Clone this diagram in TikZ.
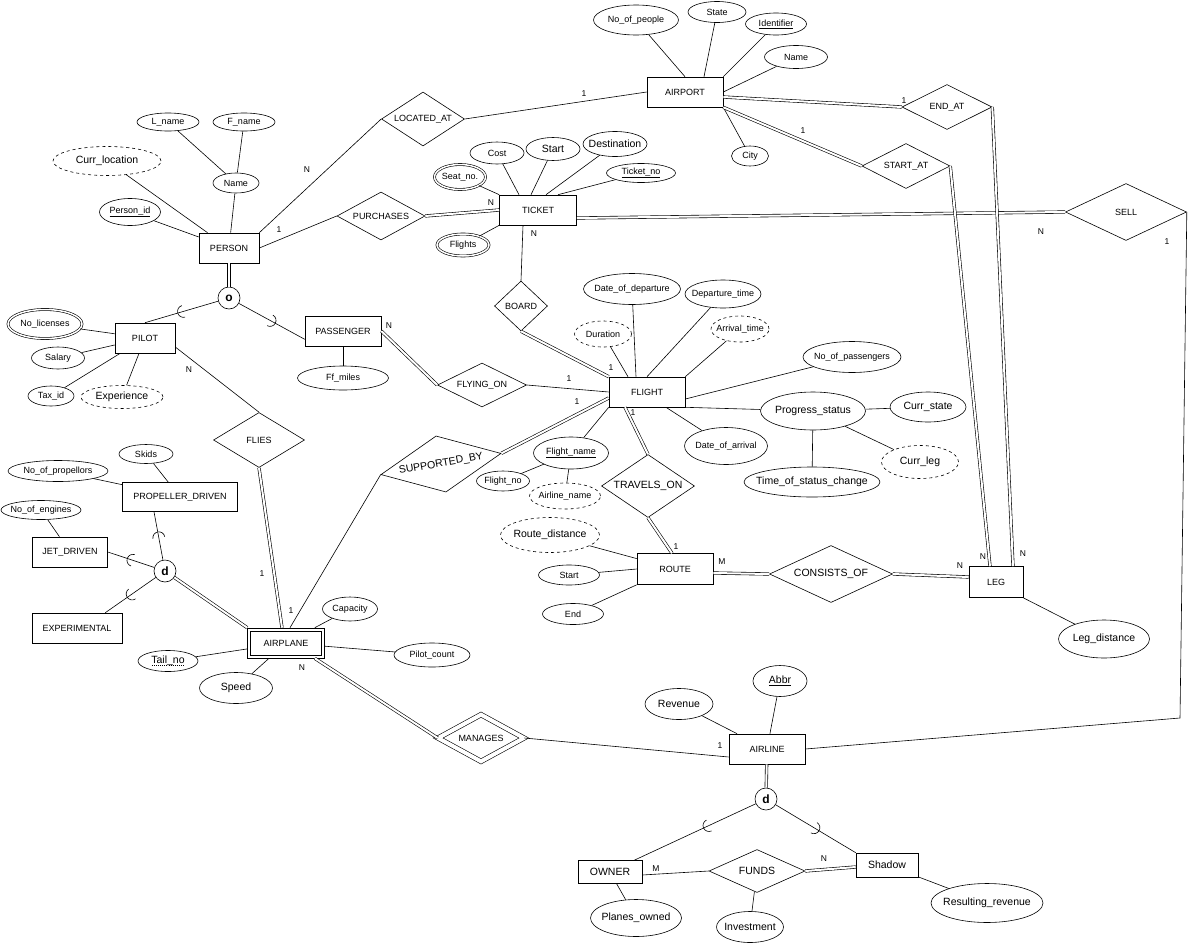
\documentclass[tikz,border=0pt]{standalone}
\usepackage{fontspec}
\setmainfont{Liberation Sans}
\usetikzlibrary{shapes.geometric,decorations.markings}
\newcommand\dashunder[1]{\setbox2=\hbox{#1}\rlap{\lower2pt\hbox to\wd2{\xleaders\hbox to 2pt{\hss\vrule width 1pt height 0.4pt\hss}\hfill}}\box2}

\begin{document}
\begin{tikzpicture}[x=1pt,y=-1pt,line width=0.6pt,
  every node/.style={font=\fontsize{9}{10}\selectfont},
  lg/.style={font=\fontsize{10.5}{12}\selectfont},
  zb/.style={execute at begin node={\setbox0=\hbox\bgroup},
    execute at end node={\egroup\hbox to 0pt{\hss\box0\hss}}},
  sz/.style 2 args={minimum width=#1, minimum height=#2},
  ent/.style={draw, rectangle, inner sep=0pt, zb},
  rel/.style={draw, diamond, inner sep=0pt, zb},
  attr/.style={draw, ellipse, inner sep=0pt, zb},
  dattr/.style={attr, dashed},
  mattr/.style={attr, double, double distance=1.5pt},
  isa/.style={draw, circle, minimum size=22pt, inner sep=0pt, font=\fontsize{12}{12}\selectfont\bfseries},
  card/.style={inner sep=0pt, font=\fontsize{8.5}{10}\selectfont},
  dbl/.style={double, double distance=2pt},
  sub/.style={postaction={decorate}, decoration={markings,
    mark=at position #1 with {\draw (-2pt,6pt) arc[start angle=90, end angle=-90, radius=6pt];}}},
  sub/.default=0.5]
\fill[white] (0,0) rectangle (1189,945);

% entities
\node[ent, sz={76}{30}] (airport) at (685,92) {AIRPORT};
\node[ent, sz={60}{30}] (person) at (229,248) {PERSON};
\node[ent, sz={77}{30}] (ticket) at (538,210) {TICKET};
\node[ent, sz={60}{30}] (pilot) at (145,338) {PILOT};
\node[ent, sz={76}{30}] (passenger) at (343,331) {PASSENGER};
\node[ent, sz={76}{30}] (flight) at (647,392) {FLIGHT};
\node[ent, sz={115}{29}] (propeller) at (180,497) {PROPELLER\_DRIVEN};
\node[ent, sz={75}{30}] (jet) at (70,552) {JET\_DRIVEN};
\node[ent, sz={90}{30}] (experimental) at (77,628) {EXPERIMENTAL};
\node[ent, sz={77}{30}] (airplane) at (286,643) {AIRPLANE};
\node[ent, sz={71}{24}] (airplanein) at (286,643) {};
\node[ent, sz={76}{31}] (route) at (675,569) {ROUTE};
\node[ent, sz={54}{31}] (leg) at (996,582) {LEG};
\node[ent, sz={76}{30}] (airline) at (767,749) {AIRLINE};
\node[ent, lg, sz={64}{23}] (owner) at (610,872) {OWNER};
\node[ent, lg, sz={62}{24}] (shadow) at (887,865) {Shadow};

% relationships
\node[rel, sz={83}{54}] (locatedat) at (423,119) {LOCATED\_AT};
\node[rel, sz={88}{48}] (purchases) at (381,216) {PURCHASES};
\node[rel, sz={90}{45}] (endat) at (947,107) {END\_AT};
\node[rel, sz={88}{45}] (startat) at (906,166) {START\_AT};
\node[rel, sz={121}{57}] (sell) at (1126,212) {SELL};
\node[rel, sz={53}{50}] (board) at (521,306) {BOARD};
\node[rel, sz={89}{44}] (flyingon) at (482,385) {FLYING\_ON};
\node[rel, lg, rotate=10, sz={122}{57}] (supportedby) at (441,464) {SUPPORTED\_BY};
\node[rel, lg, sz={93}{63}] (travelson) at (648,486) {TRAVELS\_ON};
\node[rel, lg, sz={123}{57}] (consistsof) at (831,574) {CONSISTS\_OF};
\node[rel, sz={91}{55}] (flies) at (259,440) {FLIES};
\node[rel, double, double distance=4pt, sz={86}{47}] (manages) at (481,738) {MANAGES};
\node[rel, lg, sz={96}{43}] (funds) at (757,871) {FUNDS};

% specialisation circles
\node[isa] (ocirc) at (229,298) {o};
\node[isa] (dplane) at (165,571) {d};
\node[isa] (dairline) at (766,799) {d};
\coordinate (sellbend) at (1180,718);

% attributes
\node[attr, sz={62}{18}] (lname) at (168,122) {L\_name};
\node[attr, sz={62}{18}] (fname) at (244,122) {F\_name};
\node[dattr, lg, sz={108}{29}] (currloc) at (107,161) {Curr\_location};
\node[attr, sz={46}{20}] (pname) at (236,183) {Name};
\node[attr, sz={61}{27}] (personid) at (130,212) {\underline{Person\_id}};
\node[mattr, sz={74}{29}] (nolic) at (45,324) {No\_licenses};
\node[attr, sz={53}{22}] (salary) at (58,358) {Salary};
\node[attr, sz={46}{20}] (taxid) at (51,396) {Tax\_id};
\node[dattr, lg, sz={82}{23}] (experience) at (122,397) {Experience};
\node[attr, sz={91}{24}] (ffmiles) at (343,378) {Ff\_miles};
\node[attr, sz={85}{30}] (noofpeople) at (636,20) {No\_of\_people};
\node[attr, sz={58}{21}] (state) at (717,12) {State};
\node[attr, sz={61}{22}] (ident) at (776,24) {\underline{Identifier}};
\node[attr, sz={63}{23}] (aname) at (796,57) {Name};
\node[attr, sz={37}{20}] (city) at (750,156) {City};
\node[attr, sz={54}{22}] (cost) at (497,153) {Cost};
\node[attr, lg, sz={54}{23}] (tstart) at (553,149) {Start};
\node[attr, lg, sz={64}{25}] (dest) at (615,144) {Destination};
\node[attr, sz={69}{19}] (ticketno) at (641,173) {\underline{Ticket\_no}};
\node[mattr, sz={51}{25}] (seatno) at (460,177) {Seat\_no.};
\node[mattr, sz={52}{22}] (flights) at (463,245) {Flights};
\node[attr, sz={97}{31}] (dateofdep) at (632,289) {Date\_of\_departure};
\node[attr, sz={76}{28}] (deptime) at (723,294) {Departure\_time};
\node[dattr, sz={57}{26}] (duration) at (603,334) {Duration};
\node[dattr, sz={58}{26}] (arrtime) at (740,329) {Arrival\_time};
\node[attr, sz={98}{31}] (noofpass) at (852,357) {No\_of\_passengers};
\node[attr, lg, sz={105}{38}] (progress) at (813,411) {Progress\_status};
\node[attr, lg, sz={76}{30}] (currstate) at (928,407) {Curr\_state};
\node[dattr, lg, sz={77}{33}] (currleg) at (920,462) {Curr\_leg};
\node[attr, lg, sz={136}{30}] (statuschange) at (812,482) {Time\_of\_status\_change};
\node[attr, sz={83}{37}] (dateofarr) at (726,446) {Date\_of\_arrival};
\node[attr, sz={75}{32}] (flightname) at (571,453) {\underline{Flight\_name}};
\node[attr, sz={53}{20}] (flightno) at (503,481) {Flight\_no};
\node[dattr, sz={71}{26}] (airlinename) at (565,496) {Airline\_name};
\node[dattr, lg, sz={99}{35}] (routedist) at (550,535) {Route\_distance};
\node[attr, sz={61}{20}] (rstart) at (569,575) {Start};
\node[attr, sz={61}{21}] (rend) at (573,614) {End};
\node[attr, lg, sz={91}{38}] (legdist) at (1104,639) {Leg\_distance};
\node[attr, sz={55}{24}] (capacity) at (350,609) {Capacity};
\node[attr, sz={76}{24}] (pilotcount) at (432,655) {Pilot\_count};
\node[attr, lg, sz={60}{21}] (tailno) at (168,661) {\dashunder{Tail\_no}};
\node[attr, lg, sz={73}{31}] (speed) at (236,688) {Speed};
\node[attr, sz={54}{19}] (skids) at (146,454) {Skids};
\node[attr, sz={100}{21}] (noofprop) at (58,471) {No\_of\_propellors};
\node[attr, sz={80}{19}] (noofeng) at (41,510) {No\_of\_engines};
\node[attr, lg, sz={54}{31}] (abbr) at (780,681) {\underline{Abbr}};
\node[attr, lg, sz={68}{31}] (revenue) at (679,704) {Revenue};
\node[attr, lg, sz={91}{37}] (planesowned) at (636,918) {Planes\_owned};
\node[attr, lg, sz={67}{31}] (investment) at (750,927) {Investment};
\node[attr, lg, sz={112}{39}] (resrevenue) at (987,903) {Resulting\_revenue};

% attribute lines
\draw (lname) -- (pname);
\draw (fname) -- (pname);
\draw (pname) -- (person);
\draw (currloc) -- (person);
\draw (personid) -- (person);
\draw (nolic) -- (pilot);
\draw (salary) -- (pilot);
\draw (taxid) -- (pilot);
\draw (experience) -- (pilot);
\draw (ffmiles) -- (passenger);
\draw (noofpeople) -- (airport.north);
\draw (state) -- ([xshift=19pt]airport.north);
\draw (ident) -- (airport.north east);
\draw (aname) -- (airport.east);
\draw (city) -- (airport.south east);
\draw (cost) -- ([xshift=-19pt]ticket.north);
\draw (tstart) -- ([xshift=-7pt]ticket.north);
\draw (dest) -- ([xshift=8pt]ticket.north);
\draw (ticketno) -- ([xshift=20pt]ticket.north);
\draw (seatno) -- (ticket.north west);
\draw (flights) -- (ticket.south west);
\draw (dateofdep) -- ([xshift=-11pt]flight.north);
\draw (deptime) -- (flight.north);
\draw (duration) -- ([xshift=-19pt]flight.north);
\draw (arrtime) -- (flight.north east);
\draw (noofpass) -- ([yshift=-7pt]flight.east);
\draw (progress) -- (flight.south east);
\draw (dateofarr) -- ([xshift=19pt]flight.south);
\draw (flightname) -- (flight.south west);
\draw (progress) -- (currstate);
\draw (progress) -- (currleg);
\draw (progress) -- (statuschange);
\draw (flightname) -- (flightno);
\draw (flightname) -- (airlinename);
\draw (routedist) -- (route);
\draw (rstart) -- (route.west);
\draw (rend) -- (route.south west);
\draw (legdist) -- (leg.south east);
\draw (capacity) -- (airplane);
\draw (pilotcount) -- (airplane);
\draw (tailno) -- (airplane);
\draw (speed) -- (airplane);
\draw (skids) -- (propeller);
\draw (noofprop) -- (propeller);
\draw (noofeng) -- (jet);
\draw (revenue) -- (airline);
\draw (abbr) -- (airline);
\draw (planesowned) -- (owner);
\draw (investment) -- (funds);
\draw (resrevenue) -- (shadow);

% relationship lines
\draw (person.north east) -- (locatedat.west);
\draw (locatedat.east) -- (airport.west);
\draw (person.east) -- (purchases.west);
\draw[dbl] (purchases.east) -- (ticket.west);
\draw[dbl] ([yshift=-8pt]ticket.east) -- (sell.west);
\draw (sell.east) -- (sellbend) -- (airline.east);
\draw[dbl] ([yshift=-5pt]airport.east) -- (endat.west);
\draw[dbl] (airport.south east) -- (startat.west);
\draw[dbl] (endat.east) -- ([xshift=17pt]leg.north);
\draw[dbl] (startat.east) -- ([xshift=-6pt]leg.north);
\draw ([xshift=-15pt]ticket.south) -- (board.north);
\draw[dbl] (board.south) -- (flight.north west);
\draw[dbl] (passenger.east) -- (flyingon.west);
\draw (flyingon.east) -- (flight.west);
\draw[dbl] ([yshift=-6pt]flight.west) -- (supportedby.east);
\draw (supportedby.west) -- ([xshift=4pt]airplane.north);
\draw[dbl] ([xshift=-22pt]flight.south) -- (travelson.north);
\draw[dbl] (travelson.south) -- ([xshift=-3pt]route.north);
\draw[dbl] ([yshift=-4pt]route.east) -- (consistsof.west);
\draw[dbl] (consistsof.east) -- ([yshift=5pt]leg.west);
\draw ([yshift=-9pt]pilot.east) -- (flies.north);
\draw[dbl] (flies.south) -- ([xshift=-4pt]airplane.north);
\draw[dbl] ([xshift=-10pt]airplane.south east) -- (manages.west);
\draw (manages.east) -- ([yshift=-8pt]airline.west);
\draw ([yshift=-3pt]owner.east) -- (funds.west);
\draw[dbl] (funds.east) -- ([yshift=-2pt]shadow.west);

% specialisation lines
\draw[dbl] (person) -- (ocirc);
\draw[sub] (ocirc) -- (pilot.north);
\draw[sub] (ocirc) -- ([yshift=7pt]passenger.south west);
\draw[dbl] (airplane.north west) -- (dplane);
\draw[sub] (dplane) -- ([xshift=-26pt]propeller.south);
\draw[sub] (dplane) -- (jet.east);
\draw[sub] (dplane) -- ([xshift=-17pt]experimental.north east);
\draw[dbl] (airline) -- (dairline);
\draw[sub=0.4] (dairline) -- ([xshift=-8pt]owner.north east);
\draw[sub] (dairline) -- (shadow.north west);

% cardinalities
\node[card] (locN) at (307,170) {N};
\node[card] (locOne) at (584,94) {1};
\node[card] (purOne) at (279,230) {1};
\node[card] (purN) at (491,203) {N};
\node[card] (sellN) at (1041,232) {N};
\node[card] (sellOne) at (1167,242) {1};
\node[card] (endOne) at (904,101) {1};
\node[card] (startOne) at (803,131) {1};
\node[card] (endN) at (1023,554) {N};
\node[card] (startN) at (983,557) {N};
\node[card] (consN) at (960,566) {N};
\node[card] (consM) at (722,562) {M};
\node[card] (travRoute) at (676,547) {1};
\node[card] (travFlight) at (633,413) {1};
\node[card] (suppFlight) at (577,402) {1};
\node[card] (flyOne) at (569,379) {1};
\node[card] (boardOne) at (611,368) {1};
\node[card] (flyN) at (389,326) {N};
\node[card] (boardN) at (534,234) {N};
\node[card] (fliesN) at (189,370) {N};
\node[card] (fliesOne) at (262,574) {1};
\node[card] (suppPlane) at (291,611) {1};
\node[card] (manN) at (302,668) {N};
\node[card] (manOne) at (720,746) {1};
\node[card] (fundM) at (656,869) {M};
\node[card] (fundN) at (824,859) {N};
\end{tikzpicture}
\end{document}
